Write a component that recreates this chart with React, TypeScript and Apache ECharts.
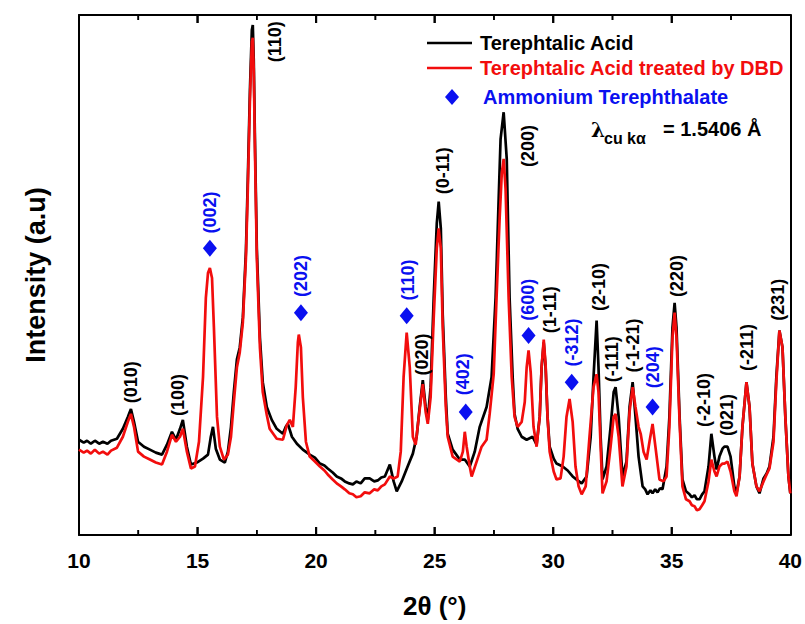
import React, { useEffect, useRef } from "react";
import * as echarts from "echarts";

// 2θ (degrees), intensity (a.u.)
const terephthalicAcid: [number, number][] = [
  [10.0, 96], [10.2, 93], [10.34, 95], [10.5, 92], [10.67, 95], [10.85, 92], [11.01, 94], [11.2, 92], [11.35, 95],
  [11.6, 97], [11.85, 107], [12.06, 119],
  [12.19, 127], [12.32, 114], [12.49, 94], [12.74, 89], [12.99, 86], [13.24, 83], [13.5, 81], [13.71, 91],
  [13.92, 104], [14.09, 96], [14.26, 107], [14.38, 116], [14.55, 89], [14.72, 71], [14.97, 73], [15.23, 77],
  [15.44, 81], [15.56, 99], [15.65, 109], [15.77, 87], [15.94, 76], [16.15, 73], [16.28, 84], [16.41, 109],
  [16.53, 144], [16.66, 177], [16.78, 189], [16.91, 219], [17.04, 286], [17.12, 359], [17.21, 449], [17.29, 509],
  [17.33, 514], [17.37, 479], [17.42, 399], [17.5, 289], [17.63, 199], [17.75, 154], [17.92, 129], [18.13, 116],
  [18.34, 107], [18.6, 102], [18.72, 109], [18.81, 112], [18.98, 99], [19.19, 92], [19.44, 86], [19.73, 81],
  [19.95, 78], [20.16, 72], [20.35, 70], [20.49, 67], [20.7, 63], [20.87, 59], [21.05, 57], [21.21, 54],
  [21.4, 52], [21.55, 51], [21.7, 54], [21.88, 52], [22.05, 57], [22.26, 57], [22.45, 54], [22.6, 55],
  [22.75, 58], [22.9, 59], [23.11, 71], [23.27, 54], [23.4, 44], [23.61, 54], [23.86, 69], [24.08, 82], [24.24, 99],
  [24.37, 129], [24.5, 156], [24.62, 129], [24.71, 116], [24.83, 149], [24.96, 239], [25.09, 314], [25.17, 336],
  [25.26, 309], [25.34, 222], [25.47, 139], [25.55, 102], [25.76, 86], [26.06, 76], [26.27, 76], [26.48, 69],
  [26.69, 84], [26.9, 109], [27.19, 129], [27.4, 159], [27.57, 239], [27.7, 339], [27.78, 399], [27.91, 426],
  [28.04, 379], [28.16, 239], [28.29, 159], [28.37, 122], [28.5, 107], [28.67, 99], [28.88, 96], [29.13, 99],
  [29.3, 91], [29.43, 119], [29.51, 169], [29.6, 194], [29.68, 169], [29.76, 119], [29.85, 89], [30.02, 77],
  [30.14, 72], [30.4, 69], [30.61, 65], [30.82, 59], [31.03, 55], [31.2, 52], [31.41, 59], [31.58, 99],
  [31.7, 159], [31.83, 216], [31.91, 169], [32.0, 99], [32.08, 56], [32.25, 69], [32.42, 109], [32.55, 144],
  [32.63, 149], [32.76, 119], [32.92, 59], [33.09, 74], [33.22, 129], [33.35, 154], [33.47, 119], [33.6, 79],
  [33.77, 49], [33.88, 46], [33.98, 41], [34.1, 45], [34.19, 42], [34.3, 46], [34.4, 43], [34.5, 47], [34.61, 46],
  [34.78, 69], [34.9, 119], [35.03, 209],
  [35.12, 234], [35.2, 209], [35.33, 119], [35.45, 56], [35.6, 44], [35.75, 41], [35.85, 38], [35.96, 40],
  [36.06, 36], [36.17, 36], [36.28, 41], [36.38, 44],
  [36.55, 69], [36.67, 102], [36.8, 79], [36.89, 66], [37.01, 79], [37.14, 87], [37.22, 89], [37.35, 89],
  [37.48, 79], [37.64, 49], [37.73, 42], [37.86, 59], [37.98, 109], [38.15, 154], [38.28, 129], [38.4, 72],
  [38.57, 49], [38.7, 42], [38.87, 57], [39.0, 62], [39.12, 69], [39.29, 99], [39.41, 159], [39.54, 206],
  [39.67, 189], [39.79, 119], [39.92, 59], [40.0, 42],
];

const treatedByDBD: [number, number][] = [
  [10.0, 86], [10.2, 83], [10.34, 85], [10.5, 82], [10.67, 86], [10.85, 82], [11.01, 84], [11.2, 81], [11.35, 85],
  [11.6, 88], [11.85, 99], [12.06, 114],
  [12.19, 122], [12.32, 109], [12.49, 84], [12.74, 79], [12.99, 76], [13.24, 73], [13.5, 71], [13.71, 84],
  [13.92, 101], [14.09, 94], [14.26, 99], [14.38, 107], [14.55, 84], [14.72, 67], [14.89, 69], [15.06, 94],
  [15.23, 159], [15.35, 239], [15.44, 264], [15.52, 269], [15.61, 259], [15.69, 209], [15.82, 119], [15.94, 89],
  [16.11, 76], [16.28, 81], [16.41, 99], [16.53, 134], [16.66, 169], [16.78, 184], [16.91, 214], [17.04, 279],
  [17.12, 349], [17.21, 439], [17.29, 497], [17.33, 501], [17.37, 469], [17.42, 389], [17.5, 279], [17.63, 189],
  [17.75, 144], [17.92, 121], [18.04, 107], [18.34, 97], [18.6, 96], [18.77, 111], [18.89, 116], [19.02, 109],
  [19.14, 149], [19.23, 194], [19.27, 202], [19.36, 189], [19.44, 139], [19.57, 94], [19.73, 79], [19.95, 74],
  [20.16, 69], [20.35, 65], [20.49, 61], [20.7, 56], [20.87, 52], [21.05, 49], [21.21, 46], [21.4, 42],
  [21.55, 41], [21.7, 38], [21.88, 39], [22.05, 43], [22.26, 42], [22.45, 46], [22.6, 45], [22.75, 49], [22.9, 51],
  [23.11, 59], [23.27, 57], [23.44, 59], [23.57, 84], [23.69, 159], [23.82, 204], [23.95, 169], [24.08, 99],
  [24.2, 91], [24.33, 119], [24.5, 152], [24.62, 124], [24.71, 112], [24.83, 139], [24.96, 219], [25.09, 289],
  [25.17, 309], [25.26, 289], [25.34, 209], [25.47, 129], [25.55, 99], [25.76, 79], [26.06, 74], [26.19, 84],
  [26.27, 104], [26.35, 89], [26.48, 69], [26.56, 59], [26.77, 74], [26.98, 89], [27.19, 96], [27.32, 122],
  [27.49, 162], [27.61, 239], [27.74, 319], [27.83, 364], [27.91, 379], [27.99, 349], [28.12, 239], [28.25, 159],
  [28.37, 119], [28.5, 109], [28.67, 114], [28.8, 134], [28.88, 169], [28.96, 186], [29.05, 164], [29.17, 109],
  [29.3, 89], [29.43, 119], [29.51, 169], [29.6, 197], [29.68, 171], [29.76, 119], [29.85, 84], [30.02, 64],
  [30.14, 56], [30.31, 57], [30.44, 79], [30.56, 119], [30.69, 137], [30.82, 114], [30.94, 69], [31.07, 49],
  [31.2, 41], [31.37, 49], [31.53, 99], [31.7, 149], [31.83, 162], [31.91, 144], [32.0, 89], [32.08, 42],
  [32.25, 54], [32.42, 89], [32.55, 119], [32.63, 122], [32.76, 99], [32.92, 49], [33.09, 69], [33.22, 124],
  [33.35, 149], [33.47, 129], [33.6, 109], [33.69, 102], [33.81, 84], [33.94, 76], [34.06, 94], [34.19, 112],
  [34.31, 89], [34.48, 56], [34.65, 54], [34.78, 59], [34.9, 109], [35.03, 199], [35.12, 224], [35.2, 199],
  [35.33, 114], [35.45, 49], [35.6, 36], [35.75, 34], [35.85, 30], [35.96, 29], [36.06, 25], [36.17, 26],
  [36.28, 30], [36.38, 34], [36.55, 54], [36.67, 76],
  [36.8, 64], [36.89, 59], [37.01, 69], [37.14, 72], [37.22, 72], [37.35, 74], [37.48, 64], [37.64, 44],
  [37.73, 39], [37.86, 59], [37.98, 109], [38.15, 154], [38.28, 129], [38.4, 72], [38.57, 49], [38.7, 44],
  [38.87, 54], [39.0, 61], [39.12, 67], [39.29, 94], [39.41, 154], [39.54, 206], [39.67, 189], [39.79, 119],
  [39.92, 59], [40.0, 42],
];

// Miller indices of the terephthalic acid reflections (label centre in data units)
const acidPeakNames = ["(010)", "(100)", "(110)", "(020)", "(0-11)", "(200)", "(1-11)", "(2-10)", "(-111)", "(-1-21)", "(220)", "(-2-10)", "(021)", "(-211)", "(231)"];
const acidPeakX = [12.19, 14.17, 18.26, 24.45, 25.34, 28.92, 29.85, 31.91, 32.5, 33.35, 35.2, 36.38, 37.35, 38.19, 39.46];
const acidPeakY = [154, 141, 497, 182, 367, 392, 227, 250, 177, 191, 261, 136, 121, 189, 237];

// Ammonium terephthalate reflections
const ammoniumNames = ["(002)", "(202)", "(110)", "(402)", "(600)", "(-312)", "(204)"];
const ammoniumLabelX = [15.52, 19.36, 23.86, 26.18, 28.92, 30.78, 34.19];
const ammoniumLabelY = [325, 261, 257, 162, 237, 194, 169];
const ammoniumMarkerX = [15.52, 19.36, 23.82, 26.31, 28.96, 30.78, 34.19];
const ammoniumMarkerY = [289, 224, 221, 124, 201, 154, 129];

// Inward frame ticks (2θ)
const majorTicks = [15, 20, 25, 30, 35];
const minorTicks = [12.5, 17.5, 22.5, 27.5, 32.5, 37.5];

const FONT = "'Liberation Sans', Arial, Helvetica, sans-serif";
const BLUE = "#0a10f0";
const RED = "#f20d0d";
const Y_MAX = 524;

export default function App() {
  const ref = useRef<HTMLDivElement>(null);
  useEffect(() => {
    document.body.style.margin = "0";
    const chart = echarts.init(ref.current!, undefined, { renderer: "svg" });
    const mkAxisLine = () => ({ show: true, onZero: false, lineStyle: { color: "#000", width: 2 } });
    const tickData = [
      ...majorTicks.map((x) => [x, 1]),
      ...minorTicks.map((x) => [x, 0]),
    ];
    // the same ticks as small bar-shaped symbols sitting on the frame, pointing inwards
    const tickSymbols: any[] = [];
    const addTicks = (xs: number[], len: number, w: number) => {
      xs.forEach((x) => {
        tickSymbols.push({ value: [x, 0], symbolSize: [w, len], symbolOffset: [0, -len / 2] });
        tickSymbols.push({ value: [x, Y_MAX], symbolSize: [w, len], symbolOffset: [0, len / 2] });
      });
    };
    addTicks(majorTicks, 8, 2);
    addTicks(minorTicks, 5, 1.6);
    chart.setOption({
      animation: false,
      backgroundColor: "#fff",
      grid: { left: 79, right: 14, top: 15, bottom: 85, containLabel: false },
      xAxis: [
        {
          type: "value", min: 10, max: 40, interval: 5, position: "bottom",
          axisLine: mkAxisLine(), axisTick: { show: false }, minorTick: { show: false },
          splitLine: { show: false },
          axisLabel: { fontSize: 21, fontWeight: "bold", color: "#000", margin: 15, fontFamily: FONT },
          name: "2θ (°)", nameLocation: "middle", nameGap: 58,
          nameTextStyle: { fontSize: 26, fontWeight: "bold", color: "#000", fontFamily: FONT },
        },
        {
          type: "value", min: 10, max: 40, interval: 5, position: "top",
          axisLine: mkAxisLine(), axisTick: { show: false }, minorTick: { show: false },
          splitLine: { show: false }, axisLabel: { show: false },
        },
      ],
      yAxis: [
        {
          type: "value", min: 0, max: Y_MAX, position: "left",
          axisLine: mkAxisLine(), axisTick: { show: false }, axisLabel: { show: false }, splitLine: { show: false },
          name: "Intensity (a.u)", nameLocation: "middle", nameGap: 30,
          nameTextStyle: { fontSize: 27, fontWeight: "bold", color: "#000", fontFamily: FONT },
        },
        {
          type: "value", min: 0, max: Y_MAX, position: "right",
          axisLine: mkAxisLine(), axisTick: { show: false }, axisLabel: { show: false }, splitLine: { show: false },
        },
      ],
      series: [
        {
          name: "frame ticks", type: "custom", xAxisIndex: 0, yAxisIndex: 0, silent: true, clip: false, z: 1,
          data: tickData,
          renderItem: (_params: any, api: any) => {
            const x = api.value(0);
            const len = api.value(1) === 1 ? 8 : 5;
            const w = api.value(1) === 1 ? 2 : 1.6;
            const b = api.coord([x, 0]);
            const t = api.coord([x, Y_MAX]);
            return {
              type: "group",
              children: [
                { type: "line", shape: { x1: b[0], y1: b[1], x2: b[0], y2: b[1] - len }, style: { stroke: "#000", lineWidth: w } },
                { type: "line", shape: { x1: t[0], y1: t[1], x2: t[0], y2: t[1] + len }, style: { stroke: "#000", lineWidth: w } },
              ],
            };
          },
        },
        {
          name: "frame tick marks", type: "scatter", symbol: "rect", clip: false, silent: true, z: 10,
          xAxisIndex: 0, yAxisIndex: 0,
          itemStyle: { color: "#000", opacity: 1 },
          data: tickSymbols,
        },
        {
          name: "Terephtalic Acid", type: "line", data: terephthalicAcid, showSymbol: false, symbol: "none",
          xAxisIndex: 0, yAxisIndex: 0,
          lineStyle: { color: "#000", width: 2.7 }, itemStyle: { color: "#000" }, z: 2,
        },
        {
          name: "Terephtalic Acid treated by DBD", type: "line", data: treatedByDBD, showSymbol: false, symbol: "none",
          xAxisIndex: 0, yAxisIndex: 0,
          lineStyle: { color: RED, width: 2.7 }, itemStyle: { color: RED }, z: 3,
        },
        {
          name: "Ammonium Terephthalate", type: "scatter", symbol: "diamond", symbolSize: [14, 17],
          xAxisIndex: 0, yAxisIndex: 0,
          itemStyle: { color: BLUE, opacity: 1 }, z: 4,
          data: ammoniumMarkerX.map((x, i) => [x, ammoniumMarkerY[i]]),
        },
        {
          name: "acid peaks", type: "scatter", symbolSize: 0, z: 5, silent: true,
          xAxisIndex: 0, yAxisIndex: 0,
          itemStyle: { opacity: 1, color: "#000" },
          data: acidPeakX.map((x, i) => ({ name: acidPeakNames[i], value: [x, acidPeakY[i]] })),
          label: {
            show: true, position: "inside", rotate: 90, formatter: "{b}", opacity: 1,
            fontSize: 18, fontWeight: "bold", color: "#000", fontFamily: FONT,
          },
        },
        {
          name: "ammonium peaks", type: "scatter", symbolSize: 0, z: 5, silent: true,
          xAxisIndex: 0, yAxisIndex: 0,
          itemStyle: { opacity: 1, color: BLUE },
          data: ammoniumLabelX.map((x, i) => ({ name: ammoniumNames[i], value: [x, ammoniumLabelY[i]] })),
          label: {
            show: true, position: "inside", rotate: 90, formatter: "{b}", opacity: 1,
            fontSize: 18, fontWeight: "bold", color: BLUE, fontFamily: FONT,
          },
        },
      ],
      graphic: [
        { type: "line", shape: { x1: 427, y1: 43, x2: 472, y2: 43 }, style: { stroke: "#000", lineWidth: 2.7 } },
        { type: "text", x: 480, y: 43, style: { text: "Terephtalic Acid", fill: "#000", font: `bold 20px ${FONT}`, textVerticalAlign: "middle" } },
        { type: "line", shape: { x1: 427, y1: 68, x2: 472, y2: 68 }, style: { stroke: RED, lineWidth: 2.7 } },
        { type: "text", x: 480, y: 68, style: { text: "Terephtalic Acid treated by DBD", fill: RED, font: `bold 20px ${FONT}`, textVerticalAlign: "middle" } },
        { type: "polygon", shape: { points: [[452, 89], [459, 97], [452, 105], [445, 97]] }, style: { fill: BLUE } },
        { type: "text", x: 483, y: 97, style: { text: "Ammonium Terephthalate", fill: BLUE, font: `bold 20px ${FONT}`, textVerticalAlign: "middle" } },
        { type: "text", x: 591, y: 130, style: { text: "λ", fill: "#000", font: `bold 20px 'DejaVu Serif', serif`, textVerticalAlign: "middle" } },
        { type: "text", x: 604, y: 138, style: { text: "cu kα", fill: "#000", font: `bold 16px ${FONT}`, textVerticalAlign: "middle" } },
        { type: "text", x: 663, y: 129, style: { text: "= 1.5406 Å", fill: "#000", font: `bold 20px ${FONT}`, textVerticalAlign: "middle" } },
      ],
    });
    return () => chart.dispose();
  }, []);
  return <div ref={ref} style={{ position: "fixed", left: 0, top: 0, width: 805, height: 624 }} />;
}
